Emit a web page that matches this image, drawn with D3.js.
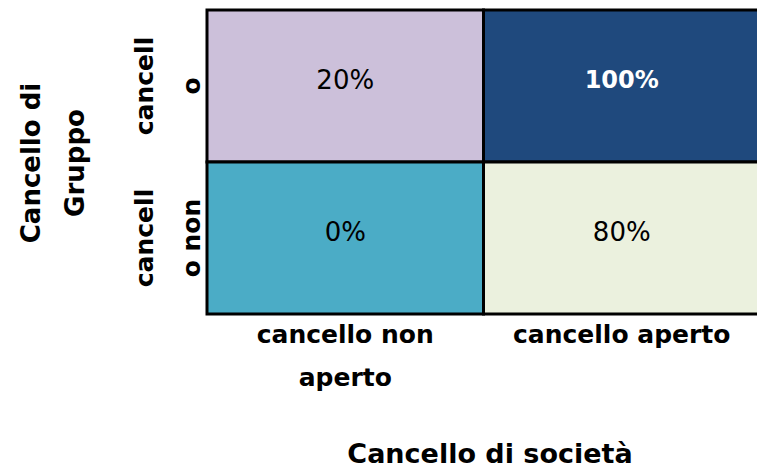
<!DOCTYPE html>
<html>
<head>
<meta charset="utf-8" />
<title>Cancello di Gruppo / Cancello di società</title>
<style>
body{ margin:0; background:#fff; }
svg text{ font-family:"Century Gothic","DejaVu Sans",sans-serif; }
</style>
<script src="https://cdn.jsdelivr.net/npm/d3@7"></script>
</head>
<body>
<div id="chart"></div>
<script>
// categorie
var xCats = ["cancello non aperto", "cancello aperto"];
var yCats = ["cancello", "cancello non"];
// etichette spezzate come nell'originale
var xTickLines = [["cancello non", "aperto"], ["cancello aperto"]];
var yTickLines = [["cancell", "o"], ["cancell", "o non"]];
// valori (%) riga per riga
var rowTop = [20, 100];
var rowBottom = [0, 80];
var cellColors = ["#CCC0DA", "#1F497D", "#4BACC6", "#EBF1DE"];
var xTitle = "Cancello di società";
var yTitle = ["Cancello di", "Gruppo"];

var width = 757, height = 468;
var svg = d3.select("#chart").append("svg")
	.attr("width", width)
	.attr("height", height);

var x = d3.scaleBand().domain(xCats).range([207, 760]);
var y = d3.scaleBand().domain(yCats).range([10, 314]);

var cells = [];
[rowTop, rowBottom].forEach(function(row, i){
	row.forEach(function(v, j){
		cells.push({ key: i + "-" + j, row: yCats[i], col: xCats[j], value: v });
	});
});
var color = d3.scaleOrdinal().domain(cells.map(function(d){ return d.key; })).range(cellColors);

//celle
svg.selectAll("rect.cell").data(cells).enter().append("rect")
	.attr("class", "cell")
	.attr("x", function(d){ return x(d.col); })
	.attr("y", function(d){ return y(d.row); })
	.attr("width", x.bandwidth())
	.attr("height", y.bandwidth())
	.attr("fill", function(d){ return color(d.key); })
	.attr("stroke", "#000")
	.attr("stroke-width", 3);

//valori
svg.selectAll("text.val").data(cells).enter().append("text")
	.attr("class", "val")
	.attr("x", function(d){ return x(d.col) + x.bandwidth() / 2; })
	.attr("y", function(d){ return y(d.row) + y.bandwidth() / 2 - 6; })
	.attr("text-anchor", "middle")
	.attr("dominant-baseline", "central")
	.attr("font-size", function(d){ return d.value === 100 ? 24 : 26; })
	.attr("font-weight", function(d){ return d.value === 100 ? "bold" : "normal"; })
	.attr("fill", function(d){ return d.value === 100 ? "#fff" : "#000"; })
	.text(function(d){ return d.value + "%"; });

//etichette asse x
xCats.forEach(function(c, i){
	var t = svg.append("text")
		.attr("x", x(c) + x.bandwidth() / 2)
		.attr("y", 343)
		.attr("text-anchor", "middle")
		.attr("font-size", 25)
		.attr("font-weight", "bold");
	xTickLines[i].forEach(function(line, k){
		t.append("tspan")
			.attr("x", x(c) + x.bandwidth() / 2)
			.attr("dy", k === 0 ? 0 : 43)
			.text(line);
	});
});

//etichette asse y (ruotate)
yCats.forEach(function(c, i){
	var cy = y(c) + y.bandwidth() / 2;
	var t = svg.append("text")
		.attr("transform", "translate(153," + cy + ") rotate(-90)")
		.attr("text-anchor", "middle")
		.attr("font-size", 25)
		.attr("font-weight", "bold");
	yTickLines[i].forEach(function(line, k){
		t.append("tspan")
			.attr("x", 0)
			.attr("y", k * 47)
			.text(line);
	});
});

//titoli
svg.append("text")
	.attr("x", 490)
	.attr("y", 463)
	.attr("text-anchor", "middle")
	.attr("font-size", 27)
	.attr("font-weight", "bold")
	.text(xTitle);

var yt = svg.append("text")
	.attr("transform", "translate(40,163) rotate(-90)")
	.attr("text-anchor", "middle")
	.attr("font-size", 26)
	.attr("font-weight", "bold");
yTitle.forEach(function(line, k){
	yt.append("tspan")
		.attr("x", 0)
		.attr("y", k * 44)
		.text(line);
});
</script>
</body>
</html>
